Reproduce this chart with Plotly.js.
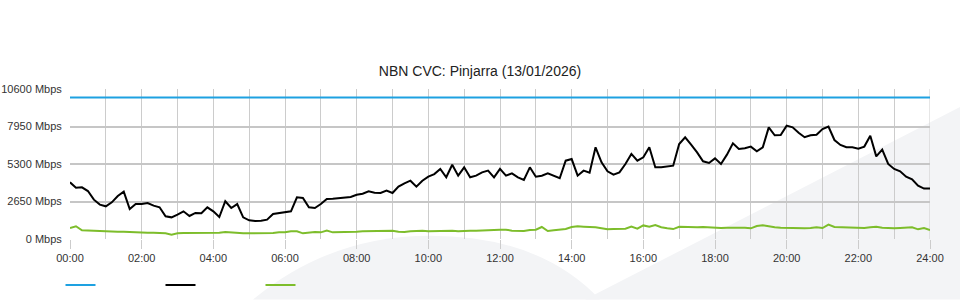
<!DOCTYPE html>
<html><head><meta charset="utf-8">
<script src="https://cdn.plot.ly/plotly-3.0.1.min.js"></script>
<style>html,body{margin:0;padding:0;background:#fff}#chart{width:960px;height:300px}</style>
</head><body><div id="chart"></div>
<script>
// Download throughput (Mbps), 10-minute samples from 00:00 to 24:00
const download = [
4005,3630,3650,3390,2780,2430, 2310,2590,3040,3345,2120,2470,
2470,2545,2356,2240,1600,1530, 1720,1955,1625,1840,1815,2240,
1955,1555,2670,2190,2470,1530, 1320,1270,1295,1365,1770,1815,
1880,1955,2945,2900,2240,2190, 2470,2830,2850,2900,2945,2970,
3130,3200,3370,3275,3250,3415, 3250,3700,3935,4120,3700,4120,
4405,4590,4950,4360,5250,4475, 5065,4360,4475,4710,4830,4360,
4950,4475,4640,4360,4170,5065, 4405,4475,4640,4450,4290,5535,
5650,4475,4830,4690,6480,5420, 4780,4550,4710,5300,6010,5535,
5770,6480,5065,5065,5110,5180, 6715,7190,6670,6125,5490,5370,
5700,5300,5960,6760,6360,6410, 6530,6200,6480,7890,7330,7350,
8010,7890,7510,7190,7330,7370, 7775,7950,6995,6650,6480,6480,
6385,6530,7300,5840,6315,5300, 4950,4780,4405,4215,3770,3560,
3560
];
// Upload throughput (Mbps), same sample times
const upload = [
777,900,613,590,565,540, 518,518,518,518,495,448,
424,448,448,424,400,306, 400,424,424,424,424,448,
448,448,495,448,424,400, 400,400,400,400,424,470,
470,540,540,400,470,495, 470,590,470,470,495,470,
518,540,540,540,540,540, 590,518,495,540,590,590,
540,565,590,590,590,540, 590,590,590,590,613,636,
660,660,590,565,565,636, 660,850,565,613,683,707,
848,895,872,872,825,754, 683,707,730,730,872,730,
960,870,990,830,760,700, 860,840,825,825,850,825,
777,777,801,801,825,801, 754,919,966,872,825,801,
777,777,777,754,777,825, 777,1013,848,825,801,801,
801,777,825,872,801,754, 754,777,801,825,683,777,
636
];
// CVC capacity (Mbps) at start and end of day
const capacity = [10000, 10000];
const capacityHours = [0, 24];
const sampleMinutes = 10;

const yTickValues = [0, 2650, 5300, 7950, 10600];
const yTickLabels = ["0 Mbps", "2650 Mbps", "5300 Mbps", "7950 Mbps", "10600 Mbps"];
const xTickValues = [0, 2, 4, 6, 8, 10, 12, 14, 16, 18, 20, 22, 24];
const xTickLabels = ["00:00","02:00","04:00","06:00","08:00","10:00","12:00",
                     "14:00","16:00","18:00","20:00","22:00","24:00"];

const sampleHours = download.map((_, i) => i * sampleMinutes / 60);

const FONT = "Liberation Sans, Arial, Helvetica, sans-serif";

const traces = [
  {x: capacityHours, y: capacity, type: 'scatter', mode: 'lines', name: ' ',
   line: {color: '#1ea1e1', width: 2}, hoverinfo: 'skip'},
  {x: sampleHours, y: download, type: 'scatter', mode: 'lines', name: ' ',
   line: {color: '#000000', width: 2}},
  {x: sampleHours, y: upload, type: 'scatter', mode: 'lines', name: ' ',
   line: {color: '#7dbd2b', width: 2}}
];

const WM = '#f3f4f6';
const layout = {
  width: 960, height: 300,
  margin: {l: 70, r: 30, t: 89, b: 61, pad: 0, autoexpand: false},
  paper_bgcolor: '#ffffff', plot_bgcolor: 'rgba(0,0,0,0)',
  font: {family: FONT, size: 11, color: '#333'},
  title: {text: 'NBN CVC: Pinjarra (13/01/2026)', x: 0.5, xref: 'container', xanchor: 'center',
          y: 1 - 71/300, yref: 'container', yanchor: 'middle', automargin: false,
          font: {family: FONT, size: 14, color: '#222'}},
  showlegend: true,
  legend: {orientation: 'h', xref: 'container', yref: 'container',
           x: 60.5/960, xanchor: 'left', y: 15/300, yanchor: 'middle',
           entrywidth: 55, entrywidthmode: 'pixels', itemwidth: 30,
           font: {family: FONT, size: 11}, bgcolor: 'rgba(0,0,0,0)', traceorder: 'normal'},
  xaxis: {range: [0, 24], tickmode: 'array', tickvals: xTickValues, ticktext: xTickLabels,
          showgrid: true, gridcolor: '#cccccc', gridwidth: 1,
          minor: {tick0: 0, dtick: 1, showgrid: true, gridcolor: '#cccccc', gridwidth: 1},
          ticks: 'outside', ticklen: 9, tickcolor: '#cccccc', tickwidth: 1,
          zeroline: false, showline: false, fixedrange: true,
          tickfont: {family: FONT, size: 11, color: '#333'}},
  yaxis: {range: [0, 10600], tickmode: 'array', tickvals: yTickValues, ticktext: yTickLabels,
          showgrid: true, gridcolor: '#c6c6c6', gridwidth: 2,
          ticks: 'outside', ticklen: 5, tickcolor: 'rgba(0,0,0,0)',
          zeroline: false, showline: false, fixedrange: true,
          tickfont: {family: FONT, size: 11, color: '#333'}},
  shapes: [
    // background watermark swooshes (decoration, in pixel-derived paper coords)
    {type: 'path', xref: 'paper', yref: 'paper', layer: 'below', fillcolor: WM, line: {width: 0},
     path: 'M ' + ((585-70)/860) + ',' + ((239.3-300)/150.3) +
           ' L ' + ((960-70)/860) + ',' + ((239.3-107)/150.3) +
           ' L ' + ((960-70)/860) + ',' + ((239.3-300)/150.3) + ' Z'},
    {type: 'path', xref: 'paper', yref: 'paper', layer: 'below', fillcolor: WM, line: {width: 0},
     path: 'M ' + ((253-70)/860) + ',' + ((239.3-300)/150.3) +
           ' Q ' + ((330-70)/860) + ',' + ((239.3-236)/150.3) + ' ' + ((430-70)/860) + ',' + ((239.3-236)/150.3) +
           ' Q ' + ((540-70)/860) + ',' + ((239.3-236)/150.3) + ' ' + ((600-70)/860) + ',' + ((239.3-300)/150.3) + ' Z'},
    {type: 'line', xref: 'x', yref: 'paper', x0: 24, x1: 24, y0: 0, y1: 1,
     line: {color: '#cccccc', width: 1}, layer: 'below'}
  ]
};

Plotly.newPlot('chart', traces, layout, {displayModeBar: false, staticPlot: true});
</script>
</body></html>
